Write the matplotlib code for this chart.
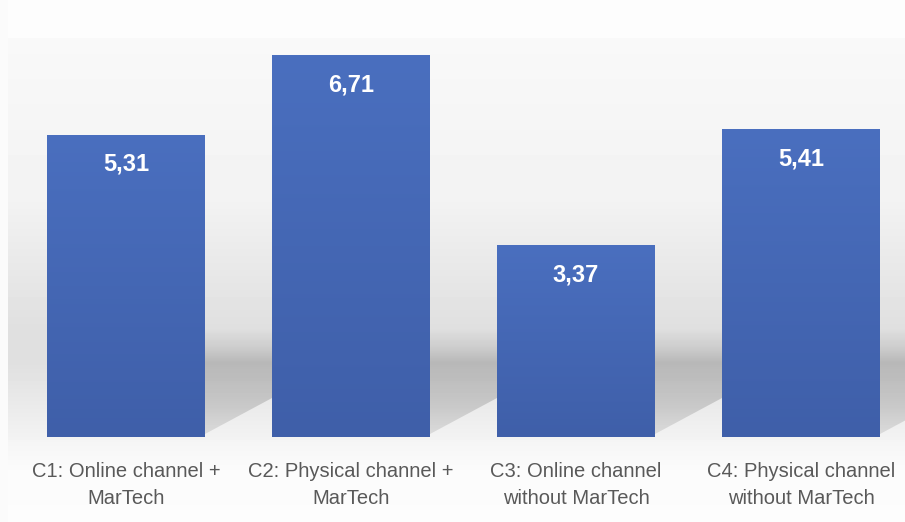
import matplotlib.pyplot as plt
import numpy as np
from matplotlib.colors import LinearSegmentedColormap
from matplotlib.patches import Polygon

categories = ['C1: Online channel +\nMarTech', 'C2: Physical channel +\nMarTech',
              'C3: Online channel\nwithout MarTech', 'C4: Physical channel\nwithout MarTech']
values = [5.31, 6.71, 3.37, 5.41]
value_labels = ['5,31', '6,71', '3,37', '5,41']

W, H = 905, 522
fig = plt.figure(figsize=(W / 100, H / 100), dpi=100)
fig.patch.set_facecolor('#fbfbfb')
font = ['Liberation Sans', 'DejaVu Sans']

# backdrop: pale wall fading to grey towards the floor line
bg = fig.add_axes([8 / W, 0, 1 - 8 / W, 1], zorder=0)
rows = np.arange(H)
shade = np.interp(rows, [0, 37, 38, 200, 330, 360, 437, 440, 470, 522],
                  [0.99, 0.99, 0.975, 0.95, 0.875, 0.875, 0.95, 0.96, 0.985, 0.99])
bg.imshow(np.repeat(shade[:, None], 2, axis=1), cmap='gray', vmin=0, vmax=1,
          aspect='auto', extent=[0, 1, 0, 1], interpolation='nearest')
bg.axis('off')

ax = fig.add_axes([0, 85 / H, 1, 437 / H], zorder=1)
ax.patch.set_visible(False)

x = np.arange(len(values))
width = 0.70
bars = ax.bar(x, values, width=width, color='#4466b4', edgecolor='none', zorder=3)

# vertical gradient on each bar
blue = LinearSegmentedColormap.from_list('blue', ['#3f5fa9', '#4a6fbf'])
grad = np.linspace(0, 1, 256)[:, None]
for b in bars:
    x0, w, h = b.get_x(), b.get_width(), b.get_height()
    im = ax.imshow(grad, cmap=blue, origin='lower', aspect='auto',
                   extent=[x0, x0 + w, 0, h], zorder=4, interpolation='bilinear')
    im.set_clip_path(b)

# soft shadows cast to the right of the bars
dx, top = 0.30, 1.9
sy = np.linspace(0, top, 200)
alpha = np.interp(sy, [0, 0.6, 1.3, 1.55, 1.9], [0.09, 0.15, 0.18, 0.09, 0.0])
shadow = np.zeros((200, 2, 4))
shadow[..., 3] = alpha[:, None]
for b in bars:
    r = b.get_x() + b.get_width()
    poly = Polygon([(r, 0.05), (r, top), (r + dx, top), (r + dx, 0.68)],
                   closed=True, facecolor='none', edgecolor='none')
    ax.add_patch(poly)
    im = ax.imshow(shadow, origin='lower', aspect='auto',
                   extent=[r, r + dx, 0, top], zorder=2, interpolation='bilinear')
    im.set_clip_path(poly)

for xi, v, lab in zip(x, values, value_labels):
    ax.text(xi, v - 0.52, lab, ha='center', va='center', color='white',
            fontsize=17, fontweight='bold', family=font, zorder=5)

ax.set_xlim(-0.56, 3.462)
ax.set_ylim(0, 437 / 56.9)
ax.set_xticks(x, categories)
ax.set_yticks([])
ax.tick_params(axis='x', length=0, pad=18, labelsize=14.5, labelcolor='#595959')
for t in ax.get_xticklabels():
    t.set_family(font)
    t.set_linespacing(1.55)
for s in ax.spines.values():
    s.set_visible(False)

fig.savefig('out.png', dpi=100)
